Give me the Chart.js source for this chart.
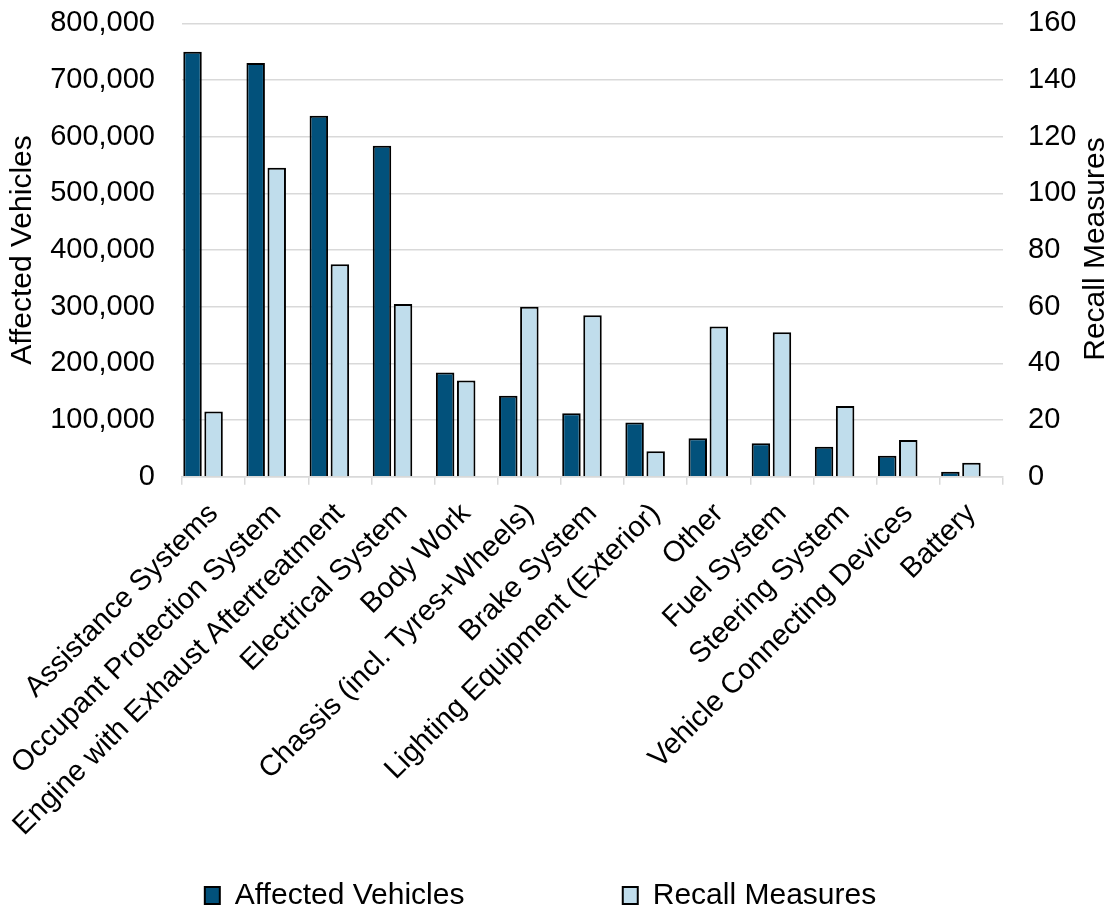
<!DOCTYPE html>
<html>
<head>
<meta charset="utf-8">
<script src="https://cdn.jsdelivr.net/npm/chart.js@4.4.0/dist/chart.umd.min.js"></script>
<style>
  html, body { margin: 0; padding: 0; background: #fff; }
</style>
</head>
<body>
<canvas id="graficoRecalls" width="1115" height="909"></canvas>
<script>
// dados
const categorias = [
  "Assistance Systems",
  "Occupant Protection System",
  "Engine with Exhaust Aftertreatment",
  "Electrical System",
  "Body Work",
  "Chassis (incl. Tyres+Wheels)",
  "Brake System",
  "Lighting Equipment (Exterior)",
  "Other",
  "Fuel System",
  "Steering System",
  "Vehicle Connecting Devices",
  "Battery"
];
const veiculosAfetados = [750000, 730000, 637000, 584000, 184000, 143000, 112000, 96000, 68000, 59000, 53000, 37000, 9000];
const medidasRecall = [23, 109, 75, 61, 34, 60, 57, 9, 53, 51, 25, 13, 5];
const ticksEsquerda = [0, 100000, 200000, 300000, 400000, 500000, 600000, 700000, 800000];
const ticksDireita = [0, 20, 40, 60, 80, 100, 120, 140, 160];

const corEscura = "#02517B";
const corClara = "#C0DDEC";
const corGrade = "#D9D9D9";
const semCor = "rgba(0,0,0,0)";
const fonte = "'Liberation Sans', Arial, sans-serif";

Chart.defaults.font.family = fonte;
Chart.defaults.font.size = 29;
Chart.defaults.color = "#000";

// titulo do eixo direito (de baixo para cima, como no original)
const tituloDireita = {
  id: "tituloDireita",
  afterDraw: function (chart) {
    const c = chart.ctx;
    const area = chart.chartArea;
    c.save();
    c.translate(1096, (area.top + area.bottom) / 2 - 1);
    c.rotate(-Math.PI / 2);
    c.font = "30px " + fonte;
    c.fillStyle = "#000";
    c.textAlign = "center";
    c.textBaseline = "middle";
    c.fillText("Recall Measures", 0, 0);
    c.restore();
  }
};

const ctx = document.getElementById("graficoRecalls").getContext("2d");

const grafico = new Chart(ctx, {
  type: "bar",
  data: {
    labels: categorias,
    datasets: [
      {
        label: "Affected Vehicles",
        data: veiculosAfetados,
        yAxisID: "y",
        backgroundColor: corEscura,
        borderColor: "#000",
        borderWidth: 2
      },
      {
        label: "Recall Measures",
        data: medidasRecall,
        yAxisID: "y1",
        backgroundColor: corClara,
        borderColor: "#000",
        borderWidth: 2
      },
      {
        // espaco vazio a direita de cada par
        label: "",
        data: categorias.map(() => null),
        yAxisID: "y",
        backgroundColor: semCor
      }
    ]
  },
  options: {
    responsive: false,
    animation: false,
    layout: { padding: { top: 23.3, left: 0, right: 34, bottom: -11.4 } },
    datasets: { bar: { categoryPercentage: 1, barPercentage: 0.878 } },
    plugins: {
      tooltip: { enabled: false },
      legend: {
        position: "bottom",
        labels: {
          boxWidth: 15,
          boxHeight: 17,
          padding: 10,
          color: "#000",
          font: { size: 30 },
          generateLabels: function (chart) {
            const itens = Chart.defaults.plugins.legend.labels.generateLabels(chart);
            const espaco = {
              text: "\u00a0".repeat(13),
              fillStyle: semCor,
              strokeStyle: semCor,
              lineWidth: 0,
              hidden: false,
              datasetIndex: 2
            };
            return [itens[0], espaco, itens[1]];
          }
        }
      }
    },
    scales: {
      x: {
        grid: {
          offset: true,
          drawOnChartArea: false,
          drawTicks: true,
          tickLength: 8,
          color: corGrade,
          lineWidth: 1.5
        },
        border: { color: corGrade, width: 1.5 },
        ticks: {
          autoSkip: false,
          maxRotation: 45,
          minRotation: 45,
          padding: 12,
          font: { size: 29 }
        },
        afterFit: function (s) { s.height = 393.6; }
      },
      y: {
        position: "left",
        min: 0,
        max: 800000,
        afterBuildTicks: function (s) { s.ticks = ticksEsquerda.map(v => ({ value: v })); },
        grid: { color: corGrade, lineWidth: 1.5, drawTicks: true, tickLength: 25, tickColor: semCor },
        border: { display: false },
        ticks: {
          padding: 2,
          callback: v => v.toLocaleString("en-US")
        },
        title: {
          display: true,
          text: "Affected Vehicles",
          padding: { top: 5, bottom: 0 },
          font: { size: 30 }
        },
        afterFit: function (s) { s.width = 182; }
      },
      y1: {
        position: "right",
        min: 0,
        max: 160,
        afterBuildTicks: function (s) { s.ticks = ticksDireita.map(v => ({ value: v })); },
        grid: { drawOnChartArea: false, drawTicks: true, tickLength: 23, tickColor: semCor },
        border: { display: false },
        ticks: { padding: 2 },
        afterFit: function (s) { s.width = 78; }
      }
    }
  },
  plugins: [tituloDireita]
});
</script>
</body>
</html>
